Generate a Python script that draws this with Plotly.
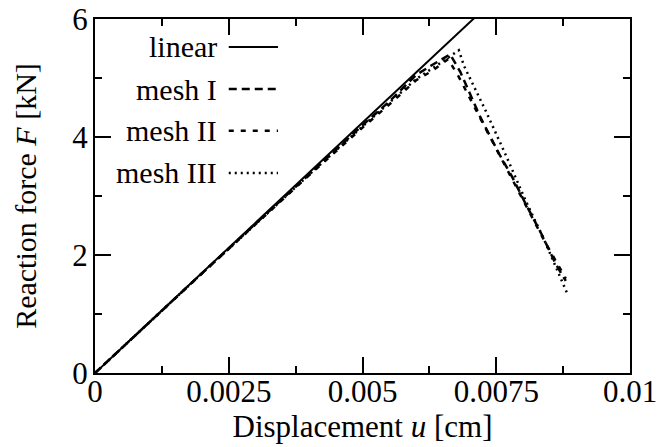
import plotly.graph_objects as go

# ---- data ----
linear_u = [0.0, 0.0072]
linear_F = [0.0, 6.11]

mesh1_u = [0, 0.001, 0.002, 0.003, 0.004, 0.005, 0.0055, 0.006, 0.0063, 0.00664,
           0.00683, 0.0072, 0.00755, 0.0078, 0.00802, 0.00836, 0.00861, 0.0088]
mesh1_F = [0, 0.85, 1.69, 2.53, 3.37, 4.20, 4.60, 5.05, 5.22, 5.40,
           5.10, 4.34, 3.72, 3.32, 2.92, 2.33, 1.85, 1.56]

mesh2_u = [0, 0.001, 0.002, 0.003, 0.004, 0.005, 0.0055, 0.006, 0.0063, 0.0066,
           0.0068, 0.0072, 0.0076, 0.008, 0.0084, 0.0088]
mesh2_F = [0, 0.85, 1.69, 2.52, 3.35, 4.16, 4.55, 4.96, 5.12, 5.32,
           5.02, 4.32, 3.62, 2.92, 2.24, 1.60]

mesh3_u = [0, 0.001, 0.002, 0.003, 0.004, 0.005, 0.0055, 0.006, 0.0064, 0.0068,
           0.0069, 0.0073, 0.0077, 0.00805, 0.0084, 0.00883]
mesh3_F = [0, 0.85, 1.69, 2.52, 3.36, 4.18, 4.58, 4.98, 5.22, 5.47,
           5.20, 4.45, 3.65, 2.92, 2.25, 1.34]

x_tickvals = [0, 0.0025, 0.005, 0.0075, 0.01]
x_ticktext = ["0", "0.0025", "0.005", "0.0075", "0.01"]
y_tickvals = [0, 2, 4, 6]
y_ticktext = ["0", "2", "4", "6"]

series_names = ["linear", "mesh I", "mesh II", "mesh III"]
dashes = ["solid", "8px,5px", "5px,7px", "2px,4px"]
widths = [2, 2.5, 2.5, 2.5]

FONT = "Liberation Serif"
FS = 31
FS_LEG = 30

fig = go.Figure()
for name, u, F, d, w in zip(series_names,
                            [linear_u, mesh1_u, mesh2_u, mesh3_u],
                            [linear_F, mesh1_F, mesh2_F, mesh3_F],
                            dashes, widths):
    fig.add_trace(go.Scatter(x=u, y=F, mode="lines", name=name,
                             line=dict(color="black", width=w, dash=d),
                             showlegend=False))

# manual legend (text left of sample line)
leg_y = [0.921, 0.802, 0.684, 0.565]
for name, d, w, yy in zip(series_names, dashes, widths, leg_y):
    fig.add_annotation(xref="paper", yref="paper", x=0.232, y=yy, text=name,
                       showarrow=False, xanchor="right", yanchor="middle",
                       font=dict(family=FONT, size=FS_LEG, color="black"))
    fig.add_shape(type="line", xref="paper", yref="paper",
                  x0=0.250, x1=0.342, y0=yy, y1=yy,
                  line=dict(color="black", width=w, dash=d))

axis_common = dict(showline=True, linecolor="black", linewidth=2, mirror="ticks",
                   ticks="inside", ticklen=16, tickwidth=2, tickcolor="black",
                   showgrid=False, zeroline=False, automargin=False,
                   ticklabeloverflow="allow",
                   tickfont=dict(family=FONT, size=FS, color="black"))

fig.update_xaxes(range=[0, 0.01], tickvals=x_tickvals, ticktext=x_ticktext,
                 ticklabelstandoff=-10,
                 minor=dict(ticks="inside", ticklen=7, tickwidth=2, tickcolor="black",
                            dtick=0.00125, showgrid=False),
                 title=dict(text="Displacement <i>u</i> [cm]",
                            font=dict(family=FONT, size=FS, color="black"), standoff=6),
                 **axis_common)
fig.update_yaxes(range=[0, 6], tickvals=y_tickvals, ticktext=y_ticktext,
                 ticklabelstandoff=-1,
                 minor=dict(ticks="inside", ticklen=7, tickwidth=2, tickcolor="black",
                            dtick=1, showgrid=False),
                 title=dict(text="Reaction force <i>F</i> [kN]",
                            font=dict(family=FONT, size=30, color="black"), standoff=27),
                 **axis_common)

fig.update_layout(width=659, height=447,
                  margin=dict(l=95, r=29, t=19, b=74),
                  plot_bgcolor="white", paper_bgcolor="white",
                  font=dict(family=FONT, size=FS, color="black"))

fig.write_html("out.html", config={"displayModeBar": False},
               post_script="document.body.style.margin='0px';")
